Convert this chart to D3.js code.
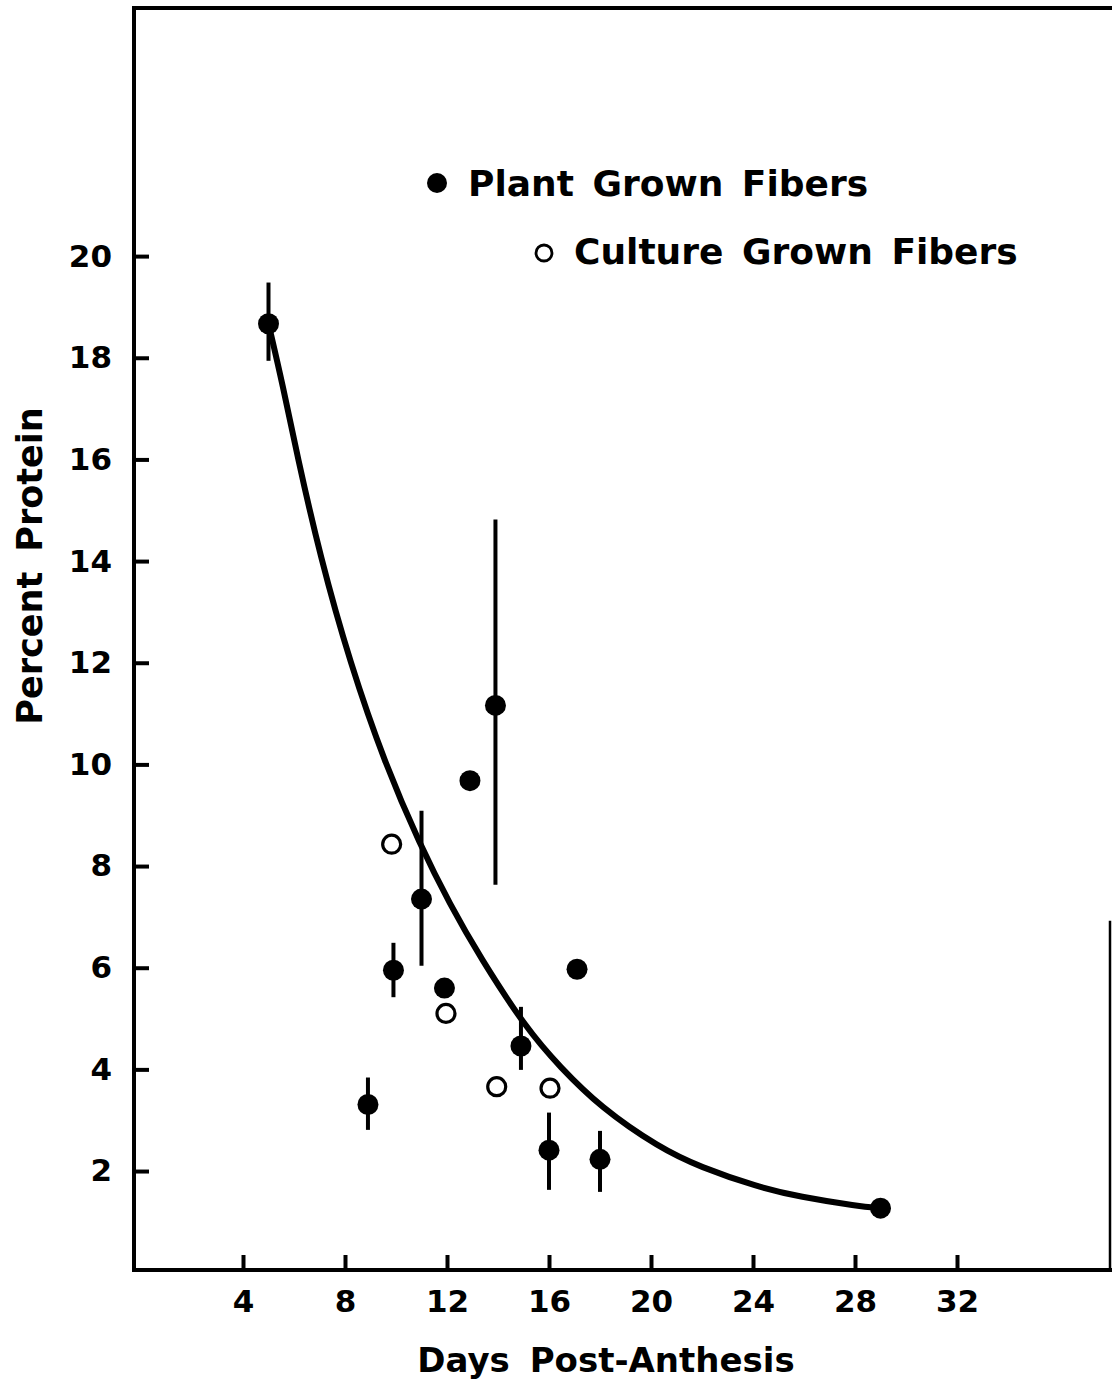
<!DOCTYPE html>
<html>
<head>
<meta charset="utf-8">
<script src="https://cdn.jsdelivr.net/npm/d3@7"></script>
<style>
  html, body { margin: 0; padding: 0; background: #fff; }
  svg { display: block; }
  text { font-family: "DejaVu Sans", sans-serif; font-weight: bold; fill: #000; }
</style>
</head>
<body>
<svg id="chart" width="1112" height="1387"></svg>
<script>
// Plant grown fibers: day, percent protein, error bar ends (null = no bar)
const plantDays = [5, 8.9, 9.9, 11, 11.9, 12.9, 13.9, 14.9, 16, 17.1, 18, 29];
const plantPct  = [18.67, 3.31, 5.95, 7.35, 5.6, 9.68, 11.16, 4.46, 2.41, 5.97, 2.23, 1.27];
const plantHigh = [19.48, 3.84, 6.49, 9.09, null, null, 14.82, 5.23, 3.15, null, 2.79, null];
const plantLow  = [17.94, 2.81, 5.42, 6.04, null, null, 7.63, 3.99, 1.63, null, 1.59, null];

// Culture grown fibers
const cultureDays = [9.83, 11.96, 13.95, 16.04];
const culturePct  = [8.43, 5.10, 3.66, 3.63];

// Hand-fitted trend curve
const curveDays = [5.0, 5.57, 6.12, 7.02, 8.2, 9.57, 10.94, 12.12, 13.29, 15.14, 16.43, 18.0, 20.35, 21.92, 24.16, 25.84, 28.12, 29.0];
const curvePct  = [18.67, 17.44, 16.09, 14.1, 11.99, 10.01, 8.42, 7.24, 6.21, 4.78, 4.05, 3.26, 2.45, 2.08, 1.69, 1.49, 1.31, 1.27];

// Axis ticks and labels
const xTicks = [4, 8, 12, 16, 20, 24, 28, 32];
const yTicks = [2, 4, 6, 8, 10, 12, 14, 16, 18, 20];
const xTitle = "Days Post-Anthesis";
const yTitle = "Percent Protein";
const legendLabels = ["Plant Grown Fibers", "Culture Grown Fibers"];

const svg = d3.select("#chart");

const x = d3.scaleLinear().domain([0, 32]).range([141, 957]);
const y = d3.scaleLinear().domain([0, 20]).range([1272.7, 256.1]);

const frameLeft = 134, frameTop = 8, frameBottom = 1270, frameRight = 1110;

// Frame lines
const frame = svg.append("g").attr("stroke", "#000").attr("stroke-width", 4).attr("fill", "none")
  .attr("stroke-linecap", "square");
frame.append("line").attr("x1", frameLeft).attr("y1", frameTop).attr("x2", frameLeft).attr("y2", frameBottom);
frame.append("line").attr("x1", frameLeft).attr("y1", frameTop).attr("x2", 1112).attr("y2", frameTop);
frame.append("line").attr("x1", frameLeft).attr("y1", frameBottom).attr("x2", frameRight).attr("y2", frameBottom);
frame.append("line").attr("x1", frameRight).attr("y1", y(6.9)).attr("x2", frameRight).attr("y2", frameBottom)
  .attr("stroke-width", 2.5);

// Bottom axis: inward ticks
const xAxis = svg.append("g")
  .attr("transform", `translate(0,${frameBottom})`)
  .call(d3.axisBottom(x).tickValues(xTicks).tickSize(-15).tickPadding(20).tickFormat(d3.format("d")));
xAxis.select(".domain").remove();
xAxis.selectAll(".tick line").attr("stroke", "#000").attr("stroke-width", 4);
xAxis.selectAll(".tick text").attr("font-size", 31).attr("font-family", "DejaVu Sans").attr("font-weight", "bold");

// Left axis: inward ticks
const yAxis = svg.append("g")
  .attr("transform", `translate(${frameLeft},0)`)
  .call(d3.axisLeft(y).tickValues(yTicks).tickSize(-15).tickPadding(22).tickFormat(d3.format("d")));
yAxis.select(".domain").remove();
yAxis.selectAll(".tick line").attr("stroke", "#000").attr("stroke-width", 4);
yAxis.selectAll(".tick text").attr("font-size", 31).attr("font-family", "DejaVu Sans").attr("font-weight", "bold");

// Axis titles
svg.append("text")
  .attr("x", 606).attr("y", 1372)
  .attr("text-anchor", "middle")
  .attr("font-size", 34)
  .attr("word-spacing", 8)
  .text(xTitle);

svg.append("text")
  .attr("transform", "translate(42,566) rotate(-90)")
  .attr("text-anchor", "middle")
  .attr("font-size", 35)
  .attr("word-spacing", 8)
  .text(yTitle);

// Trend curve
const curvePts = curveDays.map((d, i) => [d, curvePct[i]]);
svg.append("path")
  .datum(curvePts)
  .attr("fill", "none")
  .attr("stroke", "#000")
  .attr("stroke-width", 6)
  .attr("stroke-linecap", "round")
  .attr("d", d3.line().x(d => x(d[0])).y(d => y(d[1])).curve(d3.curveBasis));

// Error bars
const plant = plantDays.map((d, i) => ({ day: d, pct: plantPct[i], hi: plantHigh[i], lo: plantLow[i] }));
svg.append("g").selectAll("line")
  .data(plant.filter(p => p.hi !== null))
  .join("line")
  .attr("x1", p => x(p.day)).attr("x2", p => x(p.day))
  .attr("y1", p => y(p.hi)).attr("y2", p => y(p.lo))
  .attr("stroke", "#000").attr("stroke-width", 4);

// Plant grown points
svg.append("g").selectAll("circle")
  .data(plant)
  .join("circle")
  .attr("cx", p => x(p.day)).attr("cy", p => y(p.pct))
  .attr("r", 10.5).attr("fill", "#000");

// Culture grown points
svg.append("g").selectAll("circle")
  .data(cultureDays.map((d, i) => ({ day: d, pct: culturePct[i] })))
  .join("circle")
  .attr("cx", p => x(p.day)).attr("cy", p => y(p.pct))
  .attr("r", 9).attr("fill", "#fff").attr("stroke", "#000").attr("stroke-width", 3.2);

// Legend
const legend = svg.append("g");
legend.append("circle").attr("cx", 437).attr("cy", 183).attr("r", 10).attr("fill", "#000");
legend.append("text").attr("x", 468).attr("y", 196).attr("font-size", 36).attr("word-spacing", 6).text(legendLabels[0]);
legend.append("circle").attr("cx", 544).attr("cy", 253).attr("r", 8)
  .attr("fill", "#fff").attr("stroke", "#000").attr("stroke-width", 2.8);
legend.append("text").attr("x", 574).attr("y", 264).attr("font-size", 36).attr("word-spacing", 6).text(legendLabels[1]);
</script>
</body>
</html>
